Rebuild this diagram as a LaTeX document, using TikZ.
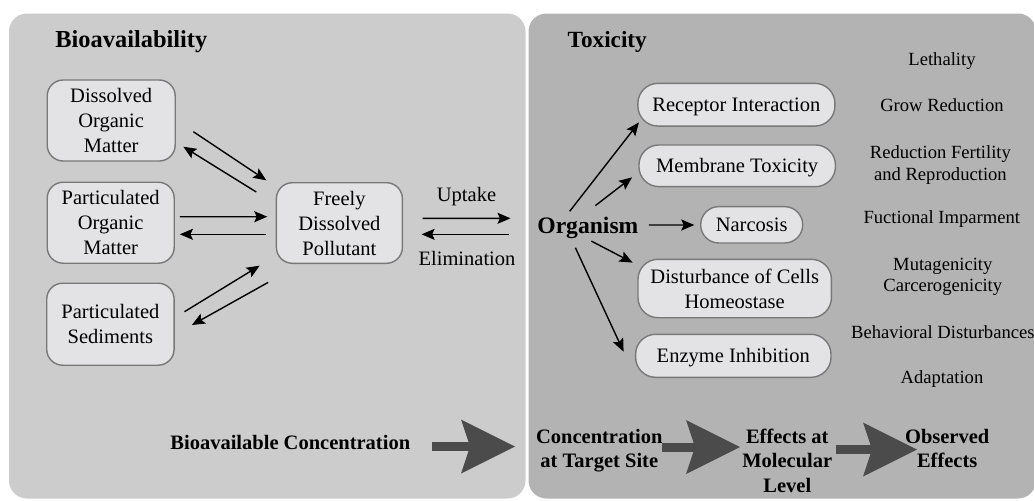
\documentclass[tikz,border=0pt]{standalone}
\usepackage{fontspec}
\setmainfont{LiberationSerif}[Extension=.ttf, UprightFont=*-Regular, BoldFont=*-Bold, ItalicFont=*-Italic, BoldItalicFont=*-BoldItalic]
\usetikzlibrary{arrows.meta,calc}
\definecolor{leftpanel}{RGB}{204,204,204}
\definecolor{rightpanel}{RGB}{179,179,179}
\definecolor{boxfill}{RGB}{227,227,229}
\definecolor{boxline}{RGB}{120,120,120}
\definecolor{bigc}{RGB}{75,75,75}
\tikzset{
  lbox/.style={draw=boxline, fill=boxfill, line width=0.7pt, rounded corners=8pt,
    align=center, inner sep=0pt, font=\fontsize{10.25}{12.5}\selectfont},
  pill/.style={lbox, rounded corners=10pt, text height=7pt, text depth=0pt},
  arr/.style={-{Stealth[length=6.5pt,width=5.5pt,inset=1.2pt]}, line width=0.7pt},
  big/.style={draw=bigc, line width=4.5pt, -{Stealth[length=27pt,width=27pt,inset=4.5pt,line width=0pt]}},
  eff/.style={font=\fontsize{9.3}{10.6}\selectfont, align=center, inner sep=0pt},
  lbl/.style={font=\fontsize{10.25}{12.5}\selectfont, inner sep=0pt},
  boldtxt/.style={font=\bfseries\fontsize{10.25}{12.2}\selectfont, align=center, inner sep=0pt},
}
\begin{document}
\begin{tikzpicture}[x=0.5pt,y=-0.5pt]
\useasboundingbox (0,0) rectangle (1034,500);
\fill[white] (0,0) rectangle (1034,500);
% panels
\fill[leftpanel, rounded corners=9pt] (9,13.5) rectangle (525.5,498.5);
\fill[rightpanel, rounded corners=9pt] (528.5,13.5) rectangle (1036,498.5);

% headings
\node[anchor=base west, inner sep=0pt, font=\bfseries\fontsize{12.2}{14}\selectfont] (hbio) at (55,47.3) {Bioavailability};
\node[anchor=base west, inner sep=0pt, font=\bfseries\fontsize{11.6}{14}\selectfont] (htox) at (567.3,47.3) {Toxicity};

% left boxes
\node[lbox, minimum width=64pt, minimum height=40.5pt] (dom) at (111.2,120.5) {Dissolved\\Organic\\Matter};
\node[lbox, minimum width=63.5pt, minimum height=40.5pt] (pom) at (110.7,222.7) {Particulated\\Organic\\Matter};
\node[lbox, minimum width=63.7pt, minimum height=41pt] (sed) at (110.4,324.2) {Particulated\\Sediments};
\node[lbox, minimum width=63pt, minimum height=40.3pt] (fdp) at (339.4,223) {Freely\\Dissolved\\Pollutant};

% left arrows
\draw[arr] ($(dom.east)+(17.5,11.2)$) -- ($(fdp.north west)+(-9.4,-1.7)$);
\draw[arr] ($(fdp.north west)+(-19.4,10)$) -- ($(dom.east)+(7.4,26.2)$);
\draw[arr] ($(pom.east)+(5,-6)$) -- ($(fdp.west)+(-8.4,-6.3)$);
\draw[arr] ($(fdp.west)+(-9.4,11.3)$) -- ($(pom.east)+(5,11.6)$);
\draw[arr] ($(sed.east)+(9.7,-12.5)$) -- ($(fdp.south west)+(-16.1,1.7)$);
\draw[arr] ($(fdp.south west)+(-7.6,18.4)$) -- ($(sed.east)+(17.1,0.8)$);

% organism
\node[anchor=base west, inner sep=0pt, text height=8.15pt, text depth=2.55pt,
  font=\bfseries\fontsize{11.8}{14}\selectfont] (org) at (537,233) {Organism};

% uptake / elimination
\draw[arr] ($(fdp.east)+(19.5,-4.7)$) -- ($(org.west)+(-26.5,-9.1)$);
\draw[arr] ($(org.west)+(-28.2,6.9)$) -- ($(fdp.east)+(18.5,11.3)$);
\node[lbl, anchor=base] (up) at (466.5,201.7) {Uptake};
\node[lbl, anchor=base] (el) at (467,265) {Elimination};

% right boxes
\node[pill, minimum width=98.5pt, minimum height=21.35pt] (rec) at (736.4,104.7) {Receptor Interaction};
\node[pill, minimum width=98.25pt, minimum height=20.85pt] (mem) at (737.2,165.8) {Membrane Toxicity};
\node[pill, rounded corners=9pt, minimum width=51pt, minimum height=18.15pt] (nar) at (751.7,224.8) {Narcosis};
\node[lbox, rounded corners=10pt, minimum width=96.7pt, minimum height=29.2pt] (dis) at (734.7,288.5) {Disturbance of Cells\\Homeostase};
\node[pill, minimum width=97.7pt, minimum height=21.5pt] (enz) at (733.3,355.8) {Enzyme Inhibition};

% organism arrows
\draw[arr] ($(org.north)+(-18.2,-5)$) -- ($(rec.south west)+(1.7,-4.3)$);
\draw[arr] ($(org.north)+(7.5,-10.7)$) -- ($(mem.south west)+(-6.2,-10)$);
\draw[arr] ($(org.east)+(10,-2.4)$) -- ($(nar.west)+(-5.7,0.2)$);
\draw[arr] ($(org.south)+(3.5,2.6)$) -- ($(dis.north west)+(-4.7,4)$);
\draw[arr] ($(org.south)+(-12.5,9.2)$) -- ($(enz.west)+(-11.3,-4.1)$);

% effects list
\node[eff, anchor=base] (leth) at (942,65.7) {Lethality};
\node[eff, anchor=base] (grow) at (942,111.7) {Grow Reduction};
\node[eff, anchor=north] (fert) at (940.4,145.6) {Reduction Fertility\\and Reproduction};
\node[eff, anchor=base] (fuct) at (941.8,223.3) {Fuctional Imparment};
\node[eff, anchor=north] (muta) at (942.8,258) {Mutagenicity\\Carcerogenicity};
\node[eff, anchor=base west] (behav) at (850.8,338.3) {Behavioral Disturbances};
\node[eff, anchor=base] (adapt) at (942,383.3) {Adaptation};

% bottom row
\node[boldtxt, anchor=base west] (bc) at (170,449.3) {Bioavailable Concentration};
\node[boldtxt, anchor=north] (cts) at (599.3,428.4) {Concentration\\at Target Site};
\node[boldtxt, anchor=north] (eml) at (787.3,428.4) {Effects at\\Molecular\\Level};
\node[boldtxt, anchor=north] (obs) at (947.2,428.4) {Observed\\Effects};

\coordinate (a1s) at (432,446.5);
\coordinate (a1e) at (515,446.5);
\coordinate (a2s) at (662,447);
\coordinate (a2e) at (740,447);
\coordinate (a3s) at (836,449.5);
\coordinate (a3e) at (917,449.5);
\draw[big] (a1s) -- (a1e);
\draw[big] (a2s) -- (a2e);
\draw[big] (a3s) -- (a3e);
\end{tikzpicture}
\end{document}
